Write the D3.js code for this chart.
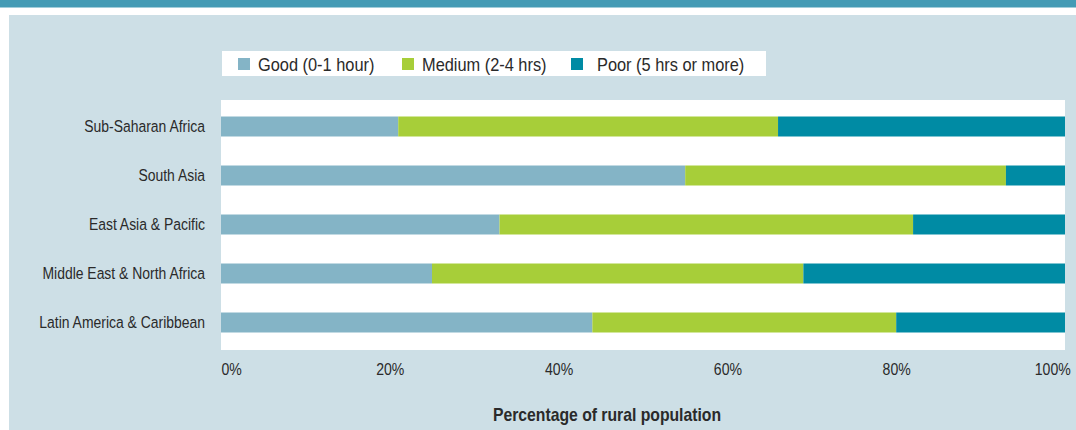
<!DOCTYPE html>
<html>
<head>
<meta charset="utf-8">
<script src="https://cdn.jsdelivr.net/npm/d3@7"></script>
<style>
  html, body { margin: 0; padding: 0; background: #fff; }
  svg { display: block; }
  text { font-family: "Liberation Sans Narrow", "Arial Narrow", "Liberation Sans", sans-serif; fill: #2a2a2a; }
</style>
</head>
<body>
<div id="chart"></div>
<script>
// Data
const regions = ["Sub-Saharan Africa", "South Asia", "East Asia & Pacific", "Middle East & North Africa", "Latin America & Caribbean"];
const seriesNames = ["Good (0-1 hour)", "Medium (2-4 hrs)", "Poor (5 hrs or more)"];
const good = [21, 55, 33, 25, 44];
const medium = [45, 38, 49, 44, 36];
const poor = [34, 7, 18, 31, 20];
const xTicks = [0, 20, 40, 60, 80, 100];
const axisTitle = "Percentage of rural population";

const colors = ["#84b4c6", "#a7ce39", "#008ba4"];

let width = 1076, height = 430;
let plot = {left: 221, right: 1065, top: 100, bottom: 350};
// the original uses a condensed face; squeeze the installed one to match
let narrow = 0.84;

const rows = regions.map((r, i) => ({region: r, good: good[i], medium: medium[i], poor: poor[i]}));
const stack = d3.stack().keys(["good", "medium", "poor"])(rows);

let x = d3.scaleLinear().domain([0, 100]).range([plot.left, plot.right]);
let y = d3.scaleBand(regions, [plot.top + 2, plot.bottom - 3])
  .paddingInner(0.592)
  .paddingOuter(0.296);
let color = d3.scaleOrdinal(["good", "medium", "poor"], colors);

const svg = d3.select("#chart").append("svg")
  .attr("width", width)
  .attr("height", height)
  .attr("viewBox", [0, 0, width, height]);

// top banner
svg.append("rect").attr("x", 0).attr("y", 0).attr("width", width).attr("height", 7.5).attr("fill", "#449bb5");

// panel
svg.append("rect").attr("x", 9).attr("y", 15).attr("width", width - 9).attr("height", height - 15).attr("fill", "#cddfe6");

// plot area
svg.append("rect")
  .attr("x", plot.left).attr("y", plot.top)
  .attr("width", plot.right - plot.left).attr("height", plot.bottom - plot.top)
  .attr("fill", "#fff");

// bars
svg.append("g")
  .selectAll("g")
  .data(stack)
  .join("g")
  .attr("fill", d => color(d.key))
  .selectAll("rect")
  .data(d => d)
  .join("rect")
  .attr("x", d => x(d[0]))
  .attr("y", d => y(d.data.region))
  .attr("width", d => x(d[1]) - x(d[0]))
  .attr("height", y.bandwidth());

// category labels
svg.append("g")
  .attr("transform", `translate(${plot.left - 16},0)`)
  .call(d3.axisLeft(y).tickSize(0).tickPadding(0))
  .call(g => g.select(".domain").remove())
  .call(g => g.selectAll("text")
    .attr("font-size", 17)
    .attr("dy", "0.35em")
    .attr("transform", `scale(${narrow - 0.02},1)`)
    .style("font-family", null));

// x axis labels
svg.append("g")
  .attr("transform", `translate(0,${plot.bottom})`)
  .call(d3.axisBottom(x).tickValues(xTicks).tickSize(0).tickPadding(14).tickFormat(d => d + "%"))
  .call(g => g.select(".domain").remove())
  .call(g => g.selectAll("text")
    .attr("font-size", 16)
    .style("font-family", null)
    .attr("text-anchor", d => d === 0 ? "start" : d === 100 ? "end" : "middle")
    .attr("x", d => d === 100 ? 6 : 0)
    .attr("transform", `scale(${narrow + 0.04},1)`));

// axis title
svg.append("text")
  .attr("transform", `translate(607,421) scale(${narrow + 0.06},1)`)
  .attr("text-anchor", "middle")
  .attr("font-size", 17.5)
  .attr("font-weight", "bold")
  .text(axisTitle);

// legend
const legend = svg.append("g").attr("transform", "translate(222,51)");
legend.append("rect").attr("width", 544).attr("height", 25).attr("fill", "#fff");
const legendX = [16, 180, 349];
const item = legend.selectAll("g.item")
  .data(seriesNames)
  .join("g")
  .attr("class", "item")
  .attr("transform", (d, i) => `translate(${legendX[i]},0)`);
item.append("rect")
  .attr("y", 7).attr("width", 12).attr("height", 12)
  .attr("fill", (d, i) => colors[i]);
item.append("text")
  .attr("transform", (d, i) => `translate(${i === 2 ? 26 : 20},20) scale(${narrow + 0.07},1)`)
  .attr("font-size", 18)
  .text(d => d);
</script>
</body>
</html>
